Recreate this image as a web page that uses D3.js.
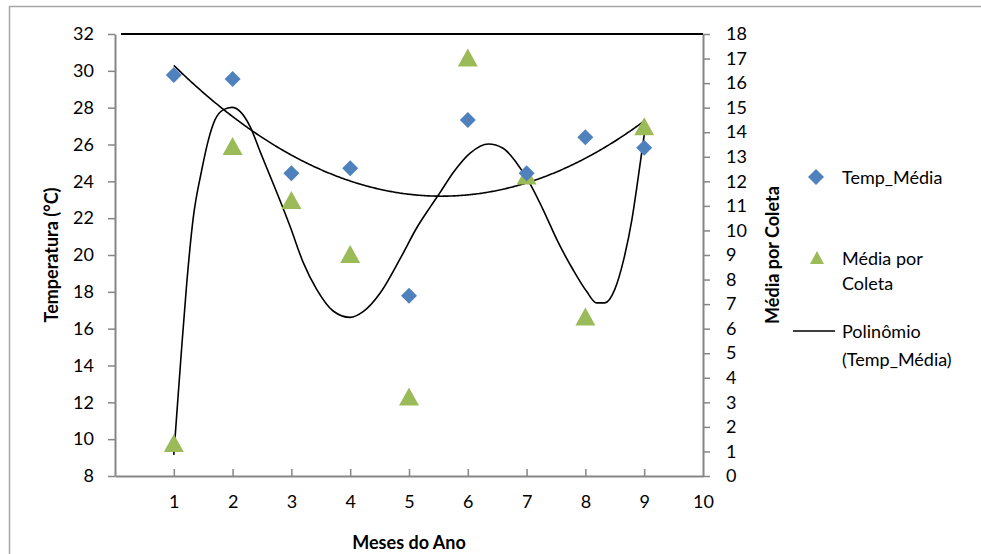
<!DOCTYPE html>
<html>
<head>
<meta charset="utf-8">
<script src="https://cdn.jsdelivr.net/npm/d3@7"></script>
<style>
  body { margin: 0; background: #fff; }
  svg { font-family: Lato, "Open Sans", sans-serif; }
</style>
</head>
<body>
<div id="chart"></div>
<script>
const meses = [1, 2, 3, 4, 5, 6, 7, 8, 9];
const tempMedia = [29.77, 29.56, 24.44, 24.71, 17.79, 27.33, 24.44, 26.39, 25.83];
const mediaColeta = [1.3, 13.4, 11.2, 9.0, 3.2, 17.0, 12.2, 6.45, 14.2];
// curva da Média por Coleta
const curvaX = [1.0, 1.05, 1.13, 1.22, 1.33, 1.47, 1.59, 1.70, 1.84, 1.99, 2.13, 2.30, 2.47, 2.64,
  2.81, 2.98, 3.20, 3.43, 3.71, 4.0, 4.22, 4.51, 4.85, 5.13, 5.36, 5.53, 5.75, 6.04, 6.35, 6.60,
  6.83, 7.06, 7.28, 7.54, 7.79, 8.02, 8.19, 8.33, 8.50, 8.65, 8.79, 8.90, 9.0];
const curvaY = [0.86, 2.5, 5.1, 7.85, 10.5, 12.4, 13.7, 14.5, 14.91, 15.01, 14.84, 14.22, 13.2, 12.2,
  11.2, 10.15, 8.7, 7.6, 6.72, 6.46, 6.69, 7.45, 8.85, 10.1, 10.95, 11.55, 12.35, 13.15, 13.52, 13.35,
  12.75, 11.9, 10.85, 9.5, 8.4, 7.52, 7.05, 7.05, 7.6, 8.8, 10.43, 12.19, 13.89];
const xTicks = [1, 2, 3, 4, 5, 6, 7, 8, 9, 10];
const leftTicks = d3.range(8, 33, 2);
const rightTicks = d3.range(0, 19, 1);

const width = 981, height = 554;
const plot = { left: 115, right: 703, top: 34, bottom: 476 };
const axisColor = "#868686";

const svg = d3.select("#chart").append("svg")
  .attr("width", width).attr("height", height);

// chart border
svg.append("rect")
  .attr("x", 9.5).attr("y", 6.5)
  .attr("width", width + 20).attr("height", height + 20)
  .attr("fill", "none").attr("stroke", "#a6a6a6").attr("stroke-width", 1.5);

const x = d3.scaleLinear().domain([0, 10]).range([plot.left, plot.right]);
const yL = d3.scaleLinear().domain([8, 32]).range([plot.bottom, plot.top]);
const yR = d3.scaleLinear().domain([0, 18]).range([plot.bottom, plot.top]);

// least squares polynomial (trendline)
function polyFit(xs, ys, degree) {
  const c = d3.mean(xs);
  const n = degree + 1;
  const A = Array.from({ length: n }, () => Array(n + 1).fill(0));
  xs.forEach((xv, k) => {
    const u = xv - c;
    for (let i = 0; i < n; i++) {
      for (let j = 0; j < n; j++) A[i][j] += Math.pow(u, i + j);
      A[i][n] += Math.pow(u, i) * ys[k];
    }
  });
  for (let i = 0; i < n; i++) {
    let p = i;
    for (let r = i + 1; r < n; r++) if (Math.abs(A[r][i]) > Math.abs(A[p][i])) p = r;
    [A[i], A[p]] = [A[p], A[i]];
    for (let r = 0; r < n; r++) {
      if (r === i) continue;
      const f = A[r][i] / A[i][i];
      for (let k = i; k <= n; k++) A[r][k] -= f * A[i][k];
    }
  }
  const coef = A.map((row, i) => row[n] / row[i]);
  return xv => coef.reduce((s, a, i) => s + a * Math.pow(xv - c, i), 0);
}

// top border line of plot
svg.append("line")
  .attr("x1", plot.left + 6).attr("x2", plot.right)
  .attr("y1", plot.top).attr("y2", plot.top)
  .attr("stroke", "#000").attr("stroke-width", 2);

// axes
const gx = svg.append("g").attr("transform", `translate(0,${plot.bottom})`)
  .call(d3.axisBottom(x).tickValues(xTicks).tickSizeInner(-7).tickSizeOuter(0).tickPadding(19));
const gl = svg.append("g").attr("transform", `translate(${plot.left},0)`)
  .call(d3.axisLeft(yL).tickValues(leftTicks).tickSizeInner(7).tickSizeOuter(0).tickPadding(14));
const gr = svg.append("g").attr("transform", `translate(${plot.right},0)`)
  .call(d3.axisRight(yR).tickValues(rightTicks).tickSizeInner(7).tickSizeOuter(0).tickPadding(16));

[gx, gl, gr].forEach(g => {
  g.select(".domain").attr("stroke", axisColor).attr("stroke-width", 2);
  g.selectAll(".tick line").attr("stroke", axisColor).attr("stroke-width", 1.5);
  g.selectAll(".tick text").attr("font-size", 18).attr("fill", "#000")
    .attr("font-family", "Lato, sans-serif");
});
gx.selectAll(".tick").filter(d => d === 10).select("line").remove();

// curves
const fitTemp = polyFit(meses, tempMedia, 2);
const samples = d3.range(1, 9.0001, 0.02);

svg.append("path")
  .attr("d", d3.line().x(d => x(d[0])).y(d => yR(d[1])).curve(d3.curveMonotoneX)
    (curvaX.map((v, i) => [v, curvaY[i]])))
  .attr("fill", "none").attr("stroke", "#000").attr("stroke-width", 1.6);

svg.append("path")
  .attr("d", d3.line().x(d => x(d)).y(d => yL(fitTemp(d)))(samples))
  .attr("fill", "none").attr("stroke", "#000").attr("stroke-width", 1.6);

// markers
const diamond = d3.symbol().type(d3.symbolSquare).size(128);
const triangle = "M0,-10L10,8L-10,8Z";

svg.append("g").selectAll("path")
  .data(meses.map((m, i) => [m, mediaColeta[i]]))
  .join("path")
  .attr("d", triangle)
  .attr("transform", d => `translate(${x(d[0])},${yR(d[1])})`)
  .attr("fill", "#9BBB59");

svg.append("g").selectAll("path")
  .data(meses.map((m, i) => [m, tempMedia[i]]))
  .join("path")
  .attr("d", diamond)
  .attr("transform", d => `translate(${x(d[0])},${yL(d[1])}) rotate(45)`)
  .attr("fill", "#4F81BD");

// axis titles
svg.append("text")
  .attr("x", x(5)).attr("y", 549)
  .attr("text-anchor", "middle").attr("font-size", 18).attr("font-weight", "bold")
  .text("Meses do Ano");

svg.append("text")
  .attr("transform", `translate(58,${(plot.top + plot.bottom) / 2}) rotate(-90)`)
  .attr("text-anchor", "middle").attr("font-size", 18).attr("font-weight", "bold")
  .text("Temperatura (°C)");

svg.append("text")
  .attr("transform", `translate(779,${(plot.top + plot.bottom) / 2}) rotate(-90)`)
  .attr("text-anchor", "middle").attr("font-size", 18).attr("font-weight", "bold")
  .text("Média por Coleta");

// legend
const lg = svg.append("g").attr("font-size", 18);
lg.append("path").attr("d", diamond)
  .attr("transform", "translate(816,177) rotate(45)").attr("fill", "#4F81BD");
lg.append("text").attr("x", 842).attr("y", 184).text("Temp_Média");

lg.append("path").attr("d", "M0,-7L7,6L-7,6Z")
  .attr("transform", "translate(817,258)").attr("fill", "#9BBB59");
lg.append("text").attr("x", 842).attr("y", 265).text("Média por");
lg.append("text").attr("x", 842).attr("y", 290).text("Coleta");

lg.append("line").attr("x1", 793).attr("x2", 835).attr("y1", 331).attr("y2", 331)
  .attr("stroke", "#000").attr("stroke-width", 1.6);
lg.append("text").attr("x", 842).attr("y", 338).text("Polinômio");
lg.append("text").attr("x", 842).attr("y", 366).text("(Temp_Média)");
</script>
</body>
</html>
